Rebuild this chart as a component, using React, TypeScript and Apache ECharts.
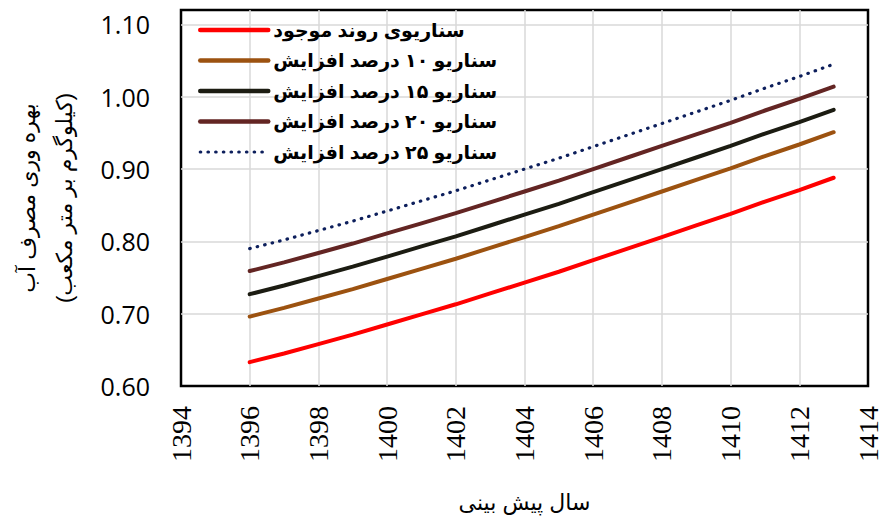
import React, { useEffect, useRef } from "react";
import * as echarts from "echarts";

const years = [1396, 1397, 1398, 1399, 1400, 1401, 1402, 1403, 1404, 1405, 1406, 1407, 1408, 1409, 1410, 1411, 1412, 1413];

const seriesNames = [
  "سناریوی روند موجود",
  "سناریو ۱۰ درصد افزایش",
  "سناریو ۱۵ درصد افزایش",
  "سناریو ۲۰ درصد افزایش",
  "سناریو ۲۵ درصد افزایش",
];

const trendValues = [0.633, 0.645, 0.658, 0.671, 0.685, 0.699, 0.713, 0.728, 0.743, 0.758, 0.774, 0.790, 0.806, 0.822, 0.838, 0.855, 0.871, 0.888];
const inc10Values = [0.696, 0.708, 0.721, 0.734, 0.748, 0.762, 0.776, 0.791, 0.806, 0.821, 0.837, 0.853, 0.869, 0.885, 0.901, 0.918, 0.934, 0.951];
const inc15Values = [0.727, 0.739, 0.752, 0.765, 0.779, 0.793, 0.807, 0.822, 0.837, 0.852, 0.868, 0.884, 0.900, 0.916, 0.932, 0.949, 0.965, 0.982];
const inc20Values = [0.759, 0.771, 0.784, 0.797, 0.811, 0.825, 0.839, 0.854, 0.869, 0.884, 0.900, 0.916, 0.932, 0.948, 0.964, 0.981, 0.997, 1.014];
const inc25Values = [0.790, 0.802, 0.815, 0.828, 0.842, 0.856, 0.870, 0.885, 0.900, 0.915, 0.931, 0.947, 0.963, 0.979, 0.995, 1.012, 1.028, 1.045];

const xTitle = "سال پیش بینی";
const yTitleLine1 = "بهره وری مصرف آب";
const yTitleLine2 = "(کیلوگرم بر متر مکعب)";

const colors = ["#ff0000", "#9c5210", "#1c1c12", "#632523", "#0d1f5c"];
const dotDash = [0.5, 7.2];

export default function App() {
  const ref = useRef<HTMLDivElement>(null);
  useEffect(() => {
    if (!ref.current) return;
    const chart = echarts.init(ref.current, undefined, { renderer: "svg" });
    const allValues = [trendValues, inc10Values, inc15Values, inc20Values, inc25Values];
    const series = allValues.map((vals, i) => ({
      name: seriesNames[i],
      type: "line",
      data: years.map((y, k) => [y, vals[k]]),
      symbol: "none",
      smooth: false,
      lineStyle:
        i === 4
          ? { color: colors[i], width: 3.2, type: dotDash, cap: "round" }
          : { color: colors[i], width: 4, cap: "round" },
      itemStyle: { color: colors[i] },
      z: 3 + i,
    }));
    chart.setOption({
      animation: false,
      backgroundColor: "#ffffff",
      grid: {
        left: 181,
        right: 12,
        top: 10,
        bottom: 131,
        show: true,
        borderColor: "#000000",
        borderWidth: 2.5,
        backgroundColor: "transparent",
        containLabel: false,
        outerBoundsMode: "none",
      },
      legend: {
        orient: "vertical",
        left: 193,
        top: 15,
        itemWidth: 68,
        itemHeight: 20,
        itemGap: 10.5,
        data: seriesNames.map((n, i) => ({
          name: n,
          lineStyle:
            i === 4
              ? { width: 3.2, type: dotDash, cap: "round", color: colors[i] }
              : { width: 4.5, cap: "round", color: colors[i] },
        })),
        itemStyle: { opacity: 0 },
        lineStyle: { width: 4.5, cap: "round" },
        textStyle: {
          fontFamily: "Arial, DejaVu Sans, sans-serif",
          fontWeight: "bold",
          fontSize: 19,
          color: "#000000",
          lineHeight: 20,
        },
      },
      xAxis: {
        type: "value",
        min: 1394,
        max: 1414,
        interval: 2,
        axisLine: { show: false },
        axisTick: { show: false },
        splitLine: {
          show: true,
          showMinLine: false,
          showMaxLine: false,
          lineStyle: { color: "#d9d9d9", width: 1.5 },
        },
        axisLabel: {
          rotate: 90,
          margin: 20,
          fontFamily: "Liberation Serif, Times New Roman, serif",
          fontSize: 28,
          lineHeight: 20,
          color: "#000000",
          showMinLabel: true,
          showMaxLabel: true,
          formatter: (v: number) => String(v),
        },
        name: xTitle,
        nameLocation: "middle",
        nameGap: 105,
        nameTextStyle: {
          fontFamily: "Arial, DejaVu Sans, sans-serif",
          fontSize: 22,
          color: "#000000",
        },
      },
      yAxis: {
        type: "value",
        min: 0.6,
        max: 1.12,
        interval: 0.1,
        axisLine: { show: false },
        axisTick: { show: false },
        splitLine: {
          show: true,
          showMinLine: false,
          showMaxLine: false,
          lineStyle: { color: "#d9d9d9", width: 1.5 },
        },
        axisLabel: {
          margin: 31,
          fontFamily: "Open Sans",
          fontSize: 25,
          color: "#000000",
          showMaxLabel: false,
          formatter: (v: number) => v.toFixed(2),
        },
        name: yTitleLine1 + "\n" + yTitleLine2,
        nameLocation: "middle",
        nameRotate: 90,
        nameGap: 98,
        nameTextStyle: {
          fontFamily: "Arial, DejaVu Sans, sans-serif",
          fontSize: 22,
          lineHeight: 37,
          color: "#000000",
        },
      },
      series,
    });
    return () => chart.dispose();
  }, []);
  return (
    <div
      ref={ref}
      style={{ position: "fixed", left: 0, top: 0, width: 880, height: 517 }}
    />
  );
}
